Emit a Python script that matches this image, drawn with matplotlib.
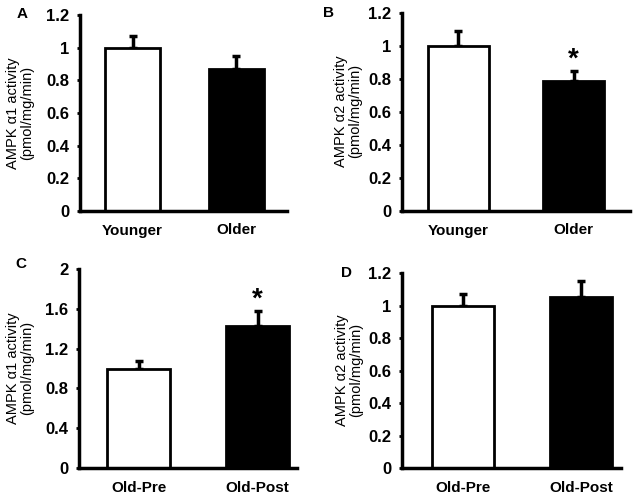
import matplotlib
matplotlib.use("Agg")
import matplotlib.pyplot as plt

plt.rcParams['font.family'] = ['Liberation Sans', 'DejaVu Sans']

W, H = 635, 498

# panel data
groups_ab = ['Younger', 'Older']
groups_cd = ['Old-Pre', 'Old-Post']

a_mean = [1.0, 0.87]
a_err = [0.07, 0.08]
b_mean = [1.0, 0.79]
b_err = [0.09, 0.06]
c_mean = [1.0, 1.43]
c_err = [0.08, 0.15]
d_mean = [1.0, 1.05]
d_err = [0.07, 0.10]

a_ticks = [0, 0.2, 0.4, 0.6, 0.8, 1, 1.2]
c_ticks = [0, 0.4, 0.8, 1.2, 1.6, 2]

panels = [
    # letter, means, errs, groups, ticks, label, star, axes px (left, top, right, bottom), xlim, letter pos, label pos
    ('A', a_mean, a_err, groups_ab, a_ticks, 'AMPK α1 activity\n(pmol/mg/min)', False,
     (80, 15, 287, 211), (-0.505, 1.486), (22, 14), (20, 113)),
    ('B', b_mean, b_err, groups_ab, a_ticks, 'AMPK α2 activity\n(pmol/mg/min)', True,
     (402, 13, 630, 211), (-0.49, 1.49), (328, 13), (348, 111)),
    ('C', c_mean, c_err, groups_cd, c_ticks, 'AMPK α1 activity\n(pmol/mg/min)', True,
     (79, 269, 297, 468), (-0.5, 1.33), (21, 264), (20, 368)),
    ('D', d_mean, d_err, groups_cd, a_ticks, 'AMPK α2 activity\n(pmol/mg/min)', False,
     (402, 273, 621, 468), (-0.52, 1.34), (347, 273), (349, 370)),
]

fig = plt.figure(figsize=(W / 100, H / 100), dpi=100)

for letter, means, errs, groups, ticks, label, star, box, xlim, lpos, ypos in panels:
    l, t, r, b = box
    ax = fig.add_axes([l / W, 1 - b / H, (r - l) / W, (b - t) / H])
    x = [0, 1]
    ax.bar(x, means, width=0.53, color=['white', 'black'], edgecolor='black',
           linewidth=2, zorder=2)
    ax.errorbar(x, means, yerr=[[0, 0], errs], fmt='none', ecolor='black',
                elinewidth=2.5, capsize=3, capthick=2.5, zorder=1)
    ax.set_xlim(*xlim)
    ax.set_ylim(0, ticks[-1])
    ax.set_yticks(ticks)
    ax.set_yticklabels([f'{v:g}' for v in ticks], fontsize=12, fontweight='bold')
    ax.set_xticks(x)
    ax.set_xticklabels(groups, fontsize=11, fontweight='bold')
    ax.tick_params(axis='x', length=0, pad=9)
    ax.tick_params(axis='y', direction='out', length=2.5, width=2, pad=5)
    for s in ['top', 'right']:
        ax.spines[s].set_visible(False)
    for s in ['left', 'bottom']:
        ax.spines[s].set_linewidth(2.5)
    if star:
        top = means[1] + errs[1]
        ax.annotate('*', (1, top), xytext=(0, 4), textcoords='offset pixels',
                    ha='center', va='baseline', fontsize=20, fontweight='bold')
    fig.text(lpos[0] / W, 1 - lpos[1] / H, letter, ha='center', va='center',
             fontsize=11, fontweight='bold')
    fig.text(ypos[0] / W, 1 - ypos[1] / H, label, ha='center', va='center',
             rotation=90, fontsize=10.5, multialignment='center', linespacing=1.05)

fig.savefig('out.png', dpi=100)
